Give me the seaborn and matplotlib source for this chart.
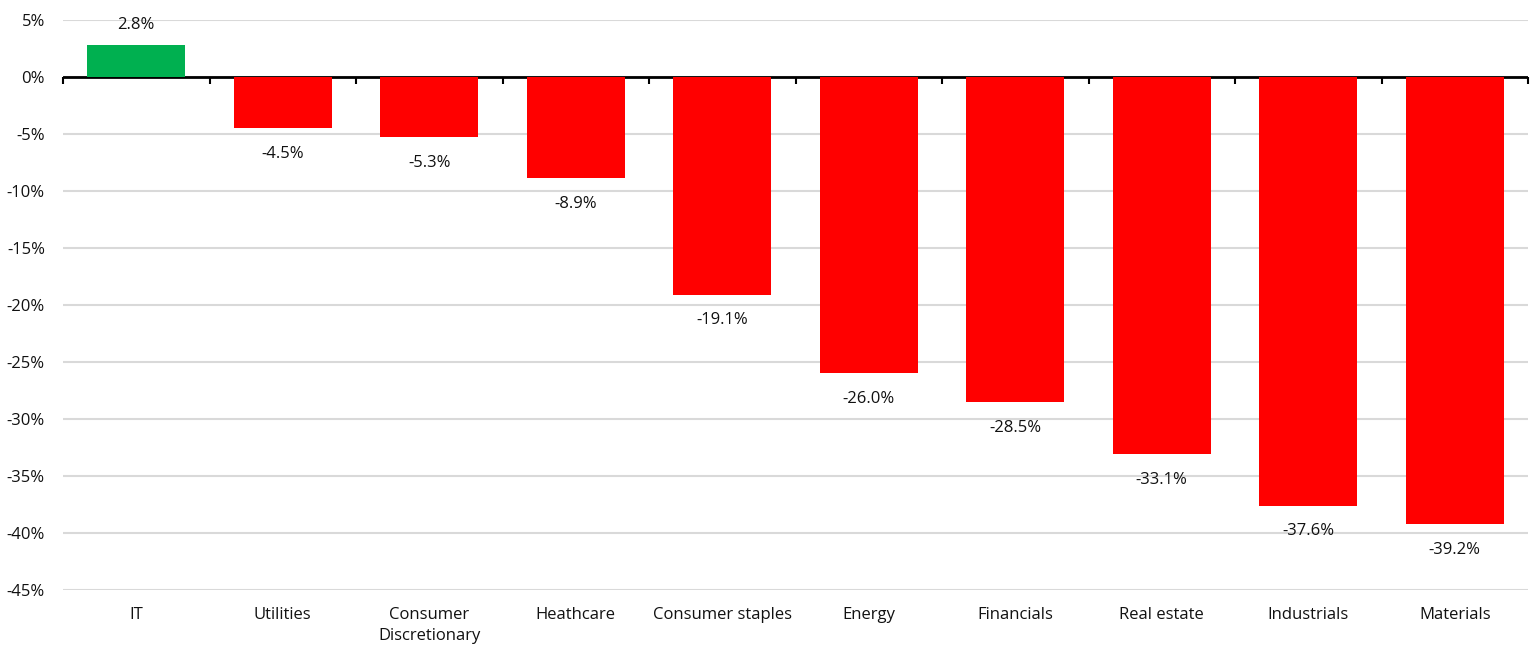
import matplotlib
matplotlib.use("Agg")
import matplotlib.pyplot as plt
import seaborn as sns
import pandas as pd
import numpy as np

categories = ["IT", "Utilities", "Consumer\nDiscretionary", "Heathcare", "Consumer staples",
              "Energy", "Financials", "Real estate", "Industrials", "Materials"]
values = [2.8, -4.5, -5.3, -8.9, -19.1, -26.0, -28.5, -33.1, -37.6, -39.2]
y_ticks = [5, 0, -5, -10, -15, -20, -25, -30, -35, -40, -45]

sns.set_theme(style="white")
plt.rcParams['font.family'] = ['Open Sans', 'DejaVu Sans']

df = pd.DataFrame({"category": categories, "value": values})
df["sign"] = np.where(df["value"] >= 0, "pos", "neg")

fig = plt.figure(figsize=(15.35, 6.55), dpi=100)
ax = fig.add_axes([63/1535, 1 - 590/655, (1528-63)/1535, 570/655])

sns.barplot(data=df, x="category", y="value", hue="sign",
            palette={"pos": "#00B050", "neg": "#FF0000"},
            width=0.67, dodge=False, legend=False, ax=ax, saturation=1,
            linewidth=0, edgecolor="none")
for p in ax.patches:
    p.set_zorder(2)

ax.set_ylim(-45, 5)
ax.set_xlim(-0.5, len(categories) - 0.5)
ax.set_yticks(y_ticks)
ax.set_yticklabels([f"{t}%" for t in y_ticks])
ax.yaxis.grid(True, color="#D9D9D9", linewidth=1.5, zorder=0.5)
ax.set_axisbelow(True)
for s in ax.spines.values():
    s.set_visible(False)
ax.tick_params(axis="y", length=0, pad=13, labelsize=12, labelcolor="#111111")
ax.tick_params(axis="x", length=0, pad=12.5, labelsize=12, labelcolor="#111111")
for lbl in ax.get_xticklabels():
    lbl.set_linespacing(1.35)
ax.set_xlabel("")
ax.set_ylabel("")

# zero line (under the bars) and boundary ticks
ax.axhline(0, color="black", linewidth=2, zorder=1)
zero_frac = (0 - (-45)) / 50
sec = ax.secondary_xaxis(zero_frac)
sec.set_xticks(np.arange(-0.5, len(categories), 1.0))
sec.xaxis.set_ticks_position("bottom")
sec.tick_params(axis="x", direction="out", length=5, width=1.5, color="black",
                labeltop=False, labelbottom=False, bottom=True, top=False)
sec.set_xticklabels([])
for k, s in sec.spines.items():
    s.set_visible(False)

for i, v in enumerate(values):
    off = 14.5 if v >= 0 else -18.5
    ax.annotate(f"{v:.1f}%", (i, v), xytext=(0, off), textcoords="offset points",
                ha="center", va="center", fontsize=12, color="#111111", zorder=3)

fig.savefig("out.png", dpi=100)
